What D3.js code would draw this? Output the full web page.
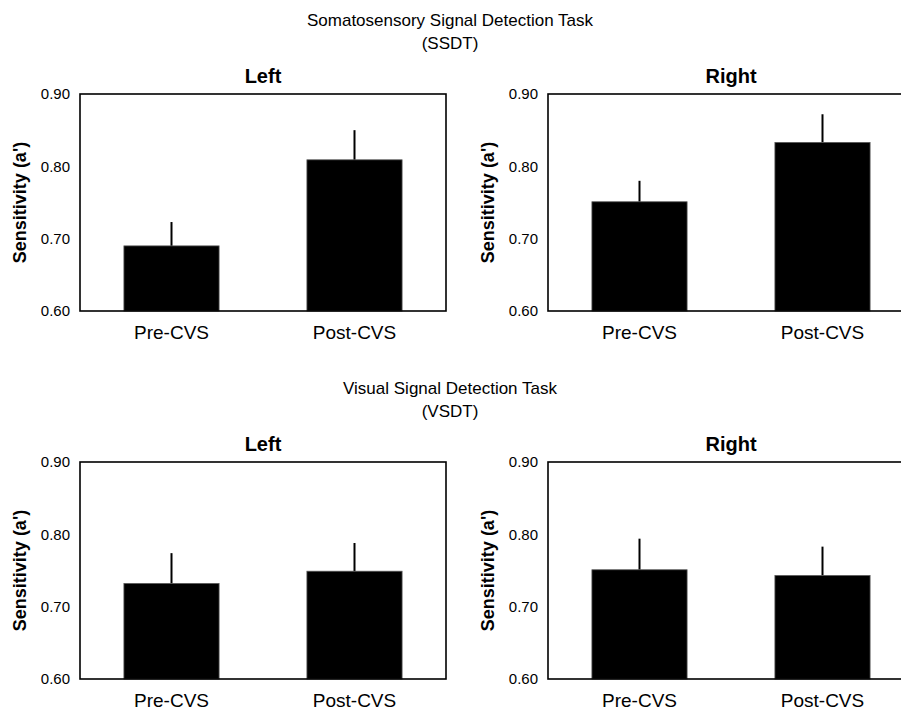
<!DOCTYPE html>
<html lang="en">
    <head>
        <meta charset="utf-8">
        <title>Signal Detection Sensitivity</title>
        <script src="https://d3js.org/d3.v7.min.js"></script>
        <style type="text/css">
          html, body { margin: 0; background: #fff; overflow: hidden; }
          svg { width: 901px; height: 710px; display: block; overflow: hidden; }
          text { font-family: Arial, "Liberation Sans", Helvetica, sans-serif; fill: #000; }
          .task { font-size: 17px; }
          .side { font-size: 20px; font-weight: bold; }
          .ylab { font-size: 18px; font-weight: bold; }
          .tick text { font-size: 15px; }
          .xlab { font-size: 19px; }
        </style>
    </head>
    <body>
        <svg></svg>

        <script type="text/javascript">

        // categories on the x axis
        const conditions = ["Pre-CVS", "Post-CVS"];

        // task titles (two lines each)
        const taskNames = ["Somatosensory Signal Detection Task", "Visual Signal Detection Task"];
        const taskShort = ["(SSDT)", "(VSDT)"];
        const sides = ["Left", "Right"];

        // mean sensitivity a' and upper error bar
        const ssdtLeft = [0.690, 0.809];
        const ssdtLeftErr = [0.033, 0.041];
        const ssdtRight = [0.751, 0.833];
        const ssdtRightErr = [0.029, 0.039];
        const vsdtLeft = [0.732, 0.749];
        const vsdtLeftErr = [0.042, 0.039];
        const vsdtRight = [0.751, 0.743];
        const vsdtRightErr = [0.043, 0.040];

        const yTicks = [0.60, 0.70, 0.80, 0.90];

        const panels = [
          {row: 0, col: 0, means: ssdtLeft, errs: ssdtLeftErr},
          {row: 0, col: 1, means: ssdtRight, errs: ssdtRightErr},
          {row: 1, col: 0, means: vsdtLeft, errs: vsdtLeftErr},
          {row: 1, col: 1, means: vsdtRight, errs: vsdtRightErr}
        ];

        const svg = d3.select("svg")
                      .attr("width", 901)
                      .attr("height", 710)
                      .attr("viewBox", "0 0 901 710");

        const plotW = 366;
        const plotH = 217;
        const lefts = [80, 548];
        const tops = [94, 462];

        // section titles
        taskNames.forEach((t, i) => {
          svg.append("text")
            .attr("class", "task")
            .attr("x", 450)
            .attr("y", tops[i] - 68)
            .attr("text-anchor", "middle")
            .text(t);
          svg.append("text")
            .attr("class", "task")
            .attr("x", 450)
            .attr("y", tops[i] - 45)
            .attr("text-anchor", "middle")
            .text(taskShort[i]);
        });

        const y = d3.scaleLinear().domain([0.6, 0.9]).range([plotH, 0]);
        const x = d3.scaleBand().domain(conditions).range([0, plotW])
                    .paddingInner(0.48).paddingOuter(0.24);

        panels.forEach(p => {
          const g = svg.append("g")
            .attr("transform", "translate(" + [lefts[p.col], tops[p.row]] + ")");

          const rows = conditions.map((c, i) => ({cond: c, mean: p.means[i], err: p.errs[i]}));

          // error bars (upper only)
          g.selectAll(".err")
            .data(rows)
            .enter()
            .append("line")
            .attr("x1", d => x(d.cond) + x.bandwidth() / 2)
            .attr("x2", d => x(d.cond) + x.bandwidth() / 2)
            .attr("y1", d => y(d.mean))
            .attr("y2", d => y(d.mean + d.err))
            .attr("stroke", "#000")
            .attr("stroke-width", 2);

          // bars
          g.selectAll(".bar")
            .data(rows)
            .enter()
            .append("rect")
            .attr("x", d => x(d.cond))
            .attr("y", d => y(d.mean))
            .attr("width", x.bandwidth())
            .attr("height", d => plotH - y(d.mean))
            .attr("fill", "#000")
            .attr("stroke", "#555")
            .attr("stroke-width", 0.8);

          // frame
          g.append("rect")
            .attr("width", plotW)
            .attr("height", plotH)
            .attr("fill", "none")
            .attr("stroke", "#000")
            .attr("stroke-width", 1.6);

          // y axis tick labels
          const yAxis = d3.axisLeft(y).tickValues(yTicks)
                          .tickFormat(d3.format(".2f")).tickSize(0).tickPadding(10);
          g.append("g").call(yAxis)
            .call(a => a.select(".domain").remove());

          // x labels
          g.selectAll(".xlab")
            .data(rows)
            .enter()
            .append("text")
            .attr("class", "xlab")
            .attr("x", d => x(d.cond) + x.bandwidth() / 2)
            .attr("y", plotH + 28)
            .attr("text-anchor", "middle")
            .text(d => d.cond);

          // side title
          g.append("text")
            .attr("class", "side")
            .attr("x", plotW / 2)
            .attr("y", -11)
            .attr("text-anchor", "middle")
            .text(sides[p.col]);

          // y axis label
          g.append("text")
            .attr("class", "ylab")
            .attr("transform", "translate(-54," + plotH / 2 + ") rotate(-90)")
            .attr("text-anchor", "middle")
            .text("Sensitivity (a')");
        });

        </script>
    </body>
</html>
